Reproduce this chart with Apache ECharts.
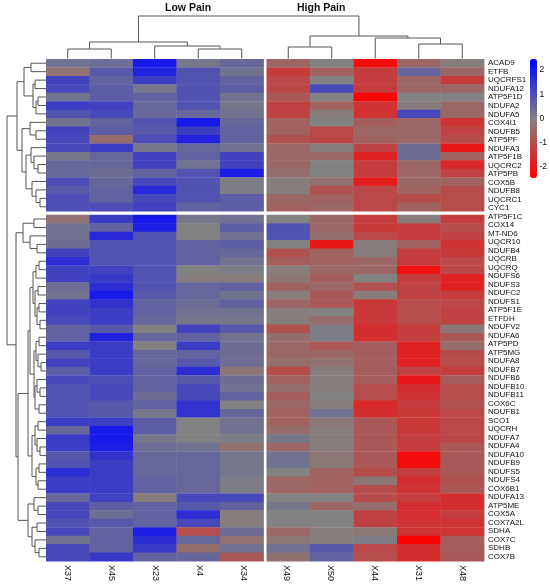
<!DOCTYPE html>
<html>
<head>
<meta charset="utf-8">
<script src="https://cdn.jsdelivr.net/npm/echarts@6/dist/echarts.min.js"></script>
<style>
  html, body { margin: 0; background: #fff; }
  #chart { width: 550px; height: 584px; }
</style>
</head>
<body>
<div id="chart"></div>
<script>
const samples = ["X37", "X45", "X23", "X4", "X34", "X49", "X50", "X44", "X31", "X48"];
const groupTitles = ["Low Pain", "High Pain"];

const genes = [
  "ACAD9", "ETFB", "UQCRFS1", "NDUFA12", "ATP5F1D", "NDUFA2", "NDUFA5", "COX4I1", "NDUFB5",
  "ATP5PF", "NDUFA3", "ATP5F1B", "UQCRC2", "ATP5PB", "COX5B", "NDUFB8", "UQCRC1", "CYC1",
  "ATP5F1C", "COX14", "MT-ND6", "UQCR10", "NDUFB4", "UQCRB", "UQCRQ", "NDUFS6", "NDUFS3",
  "NDUFC2", "NDUFS1", "ATP5F1E", "ETFDH", "NDUFV2", "NDUFA6", "ATP5PD", "ATP5MG", "NDUFA8",
  "NDUFB7", "NDUFB6", "NDUFB10", "NDUFB11", "COX6C", "NDUFB1", "SCO1", "UQCRH", "NDUFA7",
  "NDUFA4", "NDUFA10", "NDUFB9", "NDUFS5", "NDUFS4", "COX6B1", "NDUFA13", "ATP5ME", "COX5A",
  "COX7A2L", "SDHA", "COX7C", "SDHB", "COX7B"
];

// z-scores per sample, in gene order (18 upper-cluster rows, then 41 lower-cluster rows)
const X37 = [0.3, -0.3, 1.2, 1.1, 0.3, 1.3, 0.9, 0.3, 1.2, 1.1, 1.1, 0.2, 0.5, 0.5, 1.0, 0.8, 1.0, 1.0,
  -0.3, 0.3, 0.3, 0.4, 1.2, 1.6, 1.2, 1.2, 0.4, 0.3, 1.2, 1.2, 1.1, 0.6, 0.6, 1.3, 0.8, 1.2, 0.7, 1.1,
  0.9, 0.9, 0.9, 0.9, 1.3, 0.5, 1.3, 1.3, 0.8, 0.9, 1.6, 1.3, 1.3, 0.5, 1.1, 1.1, 0.9, 1.1, 0.3, 1.1, 1.1];
const X45 = [0.4, 0.8, 0.6, 0.7, 0.7, 1.2, 1.1, 0.6, 0.7, -0.4, 1.3, 0.5, 0.5, 0.4, 0.5, 0.6, 0.6, 1.0,
  1.3, 0.6, 1.7, 0.9, 0.9, 0.9, 1.2, 1.4, 1.6, 2.0, 1.5, 1.3, 1.3, 0.8, 1.8, 1.3, 1.3, 1.3, 1.3, 1.0,
  1.1, 1.1, 0.8, 0.8, 1.3, 2.0, 2.0, 1.9, 1.5, 1.3, 1.3, 1.3, 1.3, 1.2, 0.7, 0.4, 0.8, 0.6, 0.6, 0.6, 1.4];
const X23 = [2.0, 1.8, 1.3, 0.2, 0.6, 0.5, 0.5, 0.9, 0.8, 1.0, 0.2, 1.2, 1.2, 0.6, 1.1, 1.7, 1.1, 1.2,
  2.0, 1.9, 0.9, 0.9, 0.9, 0.9, 0.9, 0.9, 0.9, 0.8, 0.6, 0.6, 0.5, 0.0, 0.5, 0.0, 0.5, 0.5, 0.6, 0.6,
  0.6, 0.4, 0.6, 0.2, 0.7, 0.7, 0.2, 0.4, 0.5, 0.5, 0.5, 0.6, 0.6, -0.1, 0.6, 0.6, 0.6, 1.9, 1.6, 1.4, 0.6];
const X4 = [0.2, 0.9, 0.9, 0.9, 0.9, 0.9, 0.5, 2.0, 1.3, 1.8, 0.5, 0.6, 0.3, 0.9, 0.9, 0.9, 0.9, 0.6,
  0.2, 0.0, 0.0, 0.6, 0.6, 0.6, 0.0, -0.1, 0.5, 0.5, 0.4, 0.3, 0.2, 1.2, 0.6, 1.3, 0.6, 0.8, 1.6, 0.8,
  1.1, 1.1, 1.5, 1.5, 0.0, 0.0, 0.0, 0.3, 0.5, 0.5, 0.5, 0.5, 0.5, 1.1, 0.8, 1.6, 1.1, -1.0, 0.5, -0.4, 0.5];
const X34 = [0.5, 0.3, 0.6, 0.7, 0.3, 0.2, 0.3, 0.5, 0.6, 0.6, 0.3, 1.2, 1.2, 1.9, 0.1, 0.1, 0.7, 0.7,
  0.3, 0.7, 0.3, 0.7, 0.5, 0.3, 0.1, -0.1, 0.6, 0.3, 0.6, 0.3, 0.2, 0.8, 0.3, 0.4, 0.4, 0.4, -0.2, 0.4,
  0.3, 0.6, 0.0, 0.5, 0.3, 0.3, 0.1, -0.3, 0.2, 0.2, 0.2, 0.1, 0.1, 1.1, 0.6, -0.1, -0.1, 0.4, -0.3, 0.3, -0.8];
const X49 = [-0.5, -1.3, -1.1, -1.1, -0.8, -1.2, -1.2, -0.6, -0.6, -0.9, -0.5, -0.5, -0.5, -0.4, -0.1, -0.1, -0.5, -0.6,
  0.0, 0.9, 0.9, 0.0, -0.9, -0.7, -0.1, -0.2, -0.6, -0.1, -0.5, -0.1, -0.1, -0.9, -0.4, -0.5, -0.5, -0.4, -1.0, -0.6,
  -0.4, -0.7, -0.5, -0.6, -0.6, -0.4, 0.2, -0.5, 0.3, 0.3, 0.0, -0.5, -0.5, 0.0, 0.2, 0.0, 0.0, -0.5, -0.2, 0.3, -0.3];
const X50 = [0.0, -0.6, 0.0, 1.1, 0.0, -0.6, -0.1, 0.0, -1.1, -1.1, -0.1, -0.5, 0.0, 0.0, -0.3, -0.9, -0.6, -0.5,
  -0.5, -0.5, -0.4, -2.0, -0.6, -0.6, -0.5, -0.7, -0.5, -0.8, -0.8, 0.0, -0.4, 0.1, 0.1, -0.8, -0.5, -0.3, -0.1, -0.1,
  -0.1, 0.0, -0.1, 0.3, -0.2, -0.1, -0.1, -0.1, -0.2, -0.2, -0.6, -0.6, -0.6, 0.0, -0.5, 0.0, 0.0, -0.1, -0.1, 0.8, 0.6];
const X44 = [-2.2, -1.3, -1.3, -1.3, -2.4, -1.5, -1.5, -0.7, -0.5, -0.6, -1.2, -1.8, -1.3, -1.3, -1.9, -1.1, -1.1, -1.1,
  -1.3, -1.4, -1.1, -0.1, -0.1, -0.5, -0.5, 0.0, -0.9, -0.1, -1.4, -1.4, -1.4, -1.6, -1.6, -0.7, -0.7, -0.7, -0.7, -0.7,
  -1.0, -1.0, -1.7, -1.6, -0.8, -0.8, -0.8, -0.8, -0.8, -0.8, -1.0, -0.2, -1.0, -1.0, -0.4, -1.2, -1.2, -0.2, 0.1, -1.1, -1.0];
const X31 = [-0.5, 0.5, -0.5, -0.5, 0.0, -0.1, 1.1, -0.5, -0.5, -0.5, 0.4, 0.4, -0.5, -0.5, -0.5, -0.6, -1.0, -0.6,
  -0.1, -1.3, -1.3, -0.6, -1.3, -1.3, -2.1, -1.3, -1.2, -1.2, -1.0, -1.0, -1.0, -1.3, -1.3, -1.8, -1.8, -1.8, -1.2, -2.0,
  -1.6, -1.5, -1.3, -1.4, -1.4, -1.4, -1.3, -1.3, -2.2, -2.2, -1.3, -1.6, -1.5, -1.3, -1.6, -1.6, -1.5, -1.5, -2.4, -1.6, -1.6];
const X48 = [-0.1, -0.5, -1.3, -0.5, 0.0, -0.5, -0.5, -1.5, -1.2, -1.0, -2.0, -0.6, -1.7, -1.2, -0.6, -1.0, -1.0, -1.0,
  -1.3, -1.0, -1.2, -1.5, -1.4, -1.1, -1.1, -1.8, -1.8, -1.3, -1.1, -1.2, -1.2, -0.2, -0.8, -0.4, -1.0, -1.0, -1.3, -0.7,
  -1.0, -1.0, -0.9, -1.1, -1.1, -1.1, -1.1, -0.8, -0.8, -0.8, -0.8, -0.9, -0.8, -1.6, -1.6, -1.3, -1.5, -1.5, -0.7, -0.7, -0.8];
const columns = [X37, X45, X23, X4, X34, X49, X50, X44, X31, X48];

// dendrograms: [mergeHeight, left, right], leaves are column / gene indices
const colTree = [42.5,
  [16.5, [9.5, 0, 1], [12.5, 2, [9.5, 3, 4]]],
  [22.5, [11.5, 5, 6], [20.5, 7, [14.5, 8, 9]]]];

const rowTree = [39,
  [29,
    [22, [15, 0, 1], [13, [11, 2, 3], [10, [8, 4, 5], 6]]],
    [24, [16, 7, [10, 8, 9]],
      [20, [15, 10, [12, 11, [8, 12, 13]]], [14, 14, [10, 15, [6, 16, 17]]]]]],
  [30,
    [23, [12, 18, 19], [16, 20, [9, 21, 22]]],
    [28,
      [18,
        [16,
          [13, [10, [7, 23, 24], 25], [11, [8, 26, 27], [9, [7, 28, 29], [6, 30, 31]]]],
          [12, [10, [7, 32, 33], [8, 34, [5, 35, 36]]], [11, [9, 37, [6, 38, 39]], [7, 40, 41]]]],
        [14, [11, [8, 42, 43], [9, 44, [6, 45, 46]]], [10, [7, 47, 48], [8, 49, 50]]]],
      [18, [12, 51, [8, 52, 53]], [14, [9, 54, 55], [11, 56, [7, 57, 58]]]]]]];

const scaleTicks = [-2, -1, 0, 1, 2];

const SPLIT_COL = 5, SPLIT_ROW = 18;
const GAP_X = 0.07, GAP_Y = 0.45;
const X_MAX = samples.length + GAP_X, Y_MAX = genes.length + GAP_Y;
const colStart = c => c + (c >= SPLIT_COL ? GAP_X : 0);
const rowStart = r => r + (r >= SPLIT_ROW ? GAP_Y : 0);

const cells = [];
columns.forEach((col, c) => col.forEach((v, r) => cells.push([c, r, v])));

function layoutTree(node, posOf, links) {
  if (typeof node === "number") return { p: posOf(node), h: 0 };
  const a = layoutTree(node[1], posOf, links);
  const b = layoutTree(node[2], posOf, links);
  links.push([a.p, b.p, a.h, b.h, node[0]]);
  return { p: (a.p + b.p) / 2, h: node[0] };
}
const colLinks = [], rowLinks = [];
layoutTree(colTree, c => colStart(c) + 0.5, colLinks);
layoutTree(rowTree, r => rowStart(r) + 0.5, rowLinks);

function dendroRender(sideways) {
  return (params, api) => {
    const p1 = api.value(0), p2 = api.value(1), h1 = api.value(2), h2 = api.value(3), h = api.value(4);
    const pt = (p, hh) => api.coord(sideways ? [hh, p] : [p, hh]);
    return {
      type: "polyline",
      shape: { points: [pt(p1, h1), pt(p1, h), pt(p2, h), pt(p2, h2)] },
      style: { stroke: "#555", lineWidth: 1, fill: null }
    };
  };
}

const font = "Liberation Sans, Arial, sans-serif";
const hidden = { show: false };
const chart = echarts.init(document.getElementById("chart"), null, { renderer: "canvas" });

chart.setOption({
  animation: false,
  backgroundColor: "#fff",
  title: [
    { text: groupTitles[0], left: 165, top: 3, padding: 0, textStyle: { fontFamily: font, fontSize: 10.5, fontWeight: "bold", color: "#111" } },
    { text: groupTitles[1], left: 297, top: 3, padding: 0, textStyle: { fontFamily: font, fontSize: 10.5, fontWeight: "bold", color: "#111" } }
  ],
  grid: [
    { left: 46, top: 59, width: 438, height: 502 },
    { left: 46, top: 16, width: 438, height: 42.5 },
    { left: 6, top: 59, width: 40, height: 502 },
    { left: 530, top: 59, width: 7, height: 119 }
  ],
  xAxis: [
    { gridIndex: 0, type: "value", min: 0, max: X_MAX, ...hidden },
    { gridIndex: 0, type: "category", data: samples, position: "bottom",
      axisLine: hidden, axisTick: hidden, splitLine: hidden,
      axisLabel: { rotate: -90, margin: 4, fontSize: 9, fontFamily: font, color: "#111", interval: 0 } },
    { gridIndex: 1, type: "value", min: 0, max: X_MAX, ...hidden },
    { gridIndex: 2, type: "value", min: 0, max: 40, inverse: true, ...hidden },
    { gridIndex: 3, type: "value", min: 0, max: 1, ...hidden }
  ],
  yAxis: [
    { gridIndex: 0, type: "value", min: 0, max: Y_MAX, inverse: true, ...hidden },
    { gridIndex: 0, type: "category", data: genes, position: "right", inverse: true,
      axisLine: hidden, axisTick: hidden, splitLine: hidden,
      axisLabel: { margin: 4, fontSize: 8, fontFamily: font, color: "#111", interval: 0 } },
    { gridIndex: 1, type: "value", min: 0, max: 42.5, ...hidden },
    { gridIndex: 2, type: "value", min: 0, max: Y_MAX, inverse: true, ...hidden },
    { gridIndex: 3, type: "value", min: -2.45, max: 2.45, position: "right",
      axisLine: hidden, axisTick: hidden, splitLine: hidden,
      axisLabel: { customValues: scaleTicks, margin: 4, fontSize: 8.5, fontFamily: font, color: "#111" } }
  ],
  visualMap: {
    type: "continuous", min: -2.45, max: 2.45, seriesIndex: 0, dimension: 2,
    orient: "vertical", left: 530, top: 59, itemWidth: 7, itemHeight: 119, padding: 0,
    calculable: false, hoverLink: false,
    inRange: { color: ["#ff0000", "#828282", "#0000ff"] }
  },
  series: [
    {
      type: "custom", xAxisIndex: 0, yAxisIndex: 0, data: cells,
      renderItem: (params, api) => {
        const c = api.value(0), r = api.value(1);
        const x0 = colStart(c), y0 = rowStart(r);
        const p0 = api.coord([x0, y0]), p1 = api.coord([x0 + 1, y0 + 1]);
        return {
          type: "rect",
          shape: { x: p0[0], y: p0[1], width: p1[0] - p0[0] + 0.4, height: p1[1] - p0[1] + 0.4 },
          style: { fill: api.visual("color") }
        };
      }
    },
    { type: "custom", xAxisIndex: 2, yAxisIndex: 2, data: colLinks, renderItem: dendroRender(false), silent: true },
    { type: "custom", xAxisIndex: 3, yAxisIndex: 3, data: rowLinks, renderItem: dendroRender(true), silent: true }
  ]
});
</script>
</body>
</html>
